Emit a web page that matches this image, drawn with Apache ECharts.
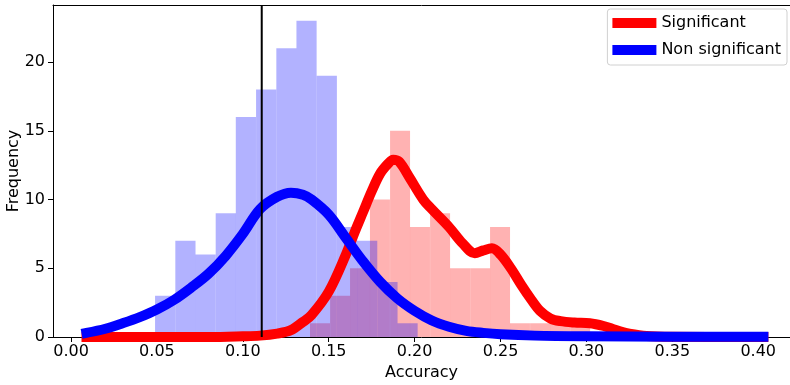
<!DOCTYPE html>
<html>
<head>
<meta charset="utf-8">
<script src="https://cdn.jsdelivr.net/npm/echarts@6/dist/echarts.min.js"></script>
<style>
html,body{margin:0;padding:0;background:#fff;}
#c{width:790px;height:385px;}
</style>
</head>
<body>
<div id="c"></div>
<script>
// ---- data ----
const xTicks = [0, 0.05, 0.10, 0.15, 0.20, 0.25, 0.30, 0.35, 0.40];
const yTicks = [0, 5, 10, 15, 20];

// histogram of the "Non significant" group: bin left edges, common width, counts
const blueBinStart = [0.0489, 0.0607, 0.0724, 0.0842, 0.0959, 0.1077, 0.1195, 0.1312, 0.1430, 0.1548, 0.1665, 0.1783, 0.1900];
const blueBinWidth = 0.01176;
const blueCounts   = [3, 7, 6, 9, 16, 18, 21, 23, 19, 8, 7, 4, 1];

// histogram of the "Significant" group
const redBinStart = [0.1391, 0.1508, 0.1624, 0.1740, 0.1857, 0.1973, 0.2090, 0.2206, 0.2323, 0.2439, 0.2555, 0.2672, 0.2788, 0.2905];
const redBinWidth = 0.01164;
const redCounts   = [1, 3, 5, 10, 15, 8, 9, 5, 5, 8, 1, 1, 1, 1];

// density curves (scaled to counts)
const blueCurveX = [0.009,0.02,0.03,0.04,0.05,0.06,0.07,0.08,0.09,0.10,0.11,0.12,0.128,0.135,0.14,0.15,0.16,0.17,0.18,0.19,0.20,0.21,0.22,0.23,0.24,0.25,0.27,0.30,0.35,0.403];
const blueCurveY = [0.3,0.6,1.0,1.45,2.0,2.7,3.6,4.6,5.9,7.5,9.3,10.2,10.5,10.35,10.0,8.9,7.2,5.5,4.0,2.8,1.9,1.2,0.75,0.45,0.3,0.2,0.1,0.05,0.02,0.01];

const redCurveX = [0.009,0.05,0.08,0.10,0.11,0.12,0.128,0.135,0.14,0.15,0.16,0.165,0.17,0.175,0.18,0.1845,0.1875,0.191,0.197,0.205,0.21,0.22,0.228,0.235,0.24,0.245,0.25,0.256,0.262,0.268,0.273,0.279,0.285,0.293,0.302,0.31,0.315,0.32,0.325,0.335,0.35,0.403];
const redCurveY = [0,0,0,0.05,0.1,0.25,0.5,1.1,1.6,3.3,6.0,7.6,9.1,10.6,11.9,12.6,12.9,12.75,11.6,10.0,9.3,8.0,6.8,6.1,6.3,6.45,6.0,5.0,3.8,2.7,1.9,1.35,1.15,1.05,1.0,0.8,0.6,0.4,0.25,0.08,0.02,0];

const threshold = 0.111;

const seriesNames = ['Significant', 'Non significant'];
const xName = 'Accuracy';
const yName = 'Frequency';

// ---- build ----
function binData(starts, width, counts) {
  return starts.map((s, i) => [s, s + width, counts[i]]);
}
function pairs(xs, ys) { return xs.map((x, i) => [x, ys[i]]); }

function histRender(fill) {
  return function (params, api) {
    const p0 = api.coord([api.value(0), api.value(2)]);
    const p1 = api.coord([api.value(1), 0]);
    return {
      type: 'rect',
      shape: { x: p0[0], y: p0[1], width: p1[0] - p0[0], height: p1[1] - p0[1] },
      style: { fill: fill, opacity: 0.3 }
    };
  };
}

const FONT = 'DejaVu Sans';
const FS = 16;
const chart = echarts.init(document.getElementById('c'), null, { renderer: 'canvas' });

chart.setOption({
  animation: false,
  backgroundColor: '#ffffff',
  textStyle: { fontFamily: FONT },
  grid: { left: 53, right: 0, top: 5, bottom: 48, containLabel: false, outerBoundsMode: 'none' },
  legend: {
    data: seriesNames,
    orient: 'vertical',
    right: 3,
    top: 9,
    icon: 'rect',
    itemWidth: 44,
    itemHeight: 10,
    itemGap: 11,
    padding: [6, 6, 7, 5],
    borderColor: '#d0d0d0',
    borderWidth: 1,
    borderRadius: 3,
    backgroundColor: '#ffffff',
    textStyle: { fontFamily: FONT, fontSize: FS, color: '#000' }
  },
  xAxis: [{
    type: 'value',
    min: -0.0105,
    max: 0.4185,
    position: 'bottom',
    name: xName,
    nameLocation: 'middle',
    nameGap: 28,
    nameMoveOverlap: false,
    nameTextStyle: { fontFamily: FONT, fontSize: FS, color: '#000' },
    axisLine: { show: true, onZero: false, lineStyle: { color: '#000', width: 1 } },
    axisTick: { show: true, length: 5, lineStyle: { color: '#000' }, customValues: xTicks },
    axisLabel: {
      fontFamily: FONT, fontSize: FS, color: '#000', margin: 7,
      customValues: xTicks,
      formatter: v => v.toFixed(2)
    },
    splitLine: { show: false }
  }, {
    type: 'value',
    min: -0.0105,
    max: 0.4185,
    position: 'top',
    axisLine: { show: true, onZero: false, lineStyle: { color: '#000', width: 1 } },
    axisTick: { show: false },
    axisLabel: { show: false },
    splitLine: { show: false }
  }],
  yAxis: {
    type: 'value',
    min: 0,
    max: 24.15,
    name: yName,
    nameLocation: 'middle',
    nameGap: 31,
    nameMoveOverlap: false,
    nameTextStyle: { fontFamily: FONT, fontSize: FS, color: '#000' },
    axisLine: { show: true, onZero: false, lineStyle: { color: '#000', width: 1 } },
    axisTick: { show: true, length: 5, lineStyle: { color: '#000' }, customValues: yTicks },
    axisLabel: { fontFamily: FONT, fontSize: FS, color: '#000', margin: 8, customValues: yTicks },
    splitLine: { show: false }
  },
  series: [
    {
      type: 'custom',
      name: 'hist-sig',
      renderItem: histRender('#ff0000'),
      encode: { x: [0, 1], y: 2 },
      data: binData(redBinStart, redBinWidth, redCounts),
      silent: true
    },
    {
      type: 'custom',
      name: 'hist-nonsig',
      renderItem: histRender('#0000ff'),
      encode: { x: [0, 1], y: 2 },
      data: binData(blueBinStart, blueBinWidth, blueCounts),
      silent: true
    },
    {
      type: 'line',
      name: seriesNames[0],
      data: pairs(redCurveX, redCurveY),
      smooth: 0.35,
      symbol: 'none',
      lineStyle: { color: '#ff0000', width: 10, cap: 'square', join: 'round' },
      itemStyle: { color: '#ff0000' }
    },
    {
      type: 'line',
      name: seriesNames[1],
      data: pairs(blueCurveX, blueCurveY),
      smooth: 0.35,
      symbol: 'none',
      lineStyle: { color: '#0000ff', width: 10, cap: 'square', join: 'round' },
      itemStyle: { color: '#0000ff' }
    },
    {
      type: 'line',
      name: 'threshold',
      data: [[threshold, 0], [threshold, 24.15]],
      symbol: 'none',
      lineStyle: { color: '#000', width: 2 },
      z: 5
    }
  ]
});
</script>
</body>
</html>
